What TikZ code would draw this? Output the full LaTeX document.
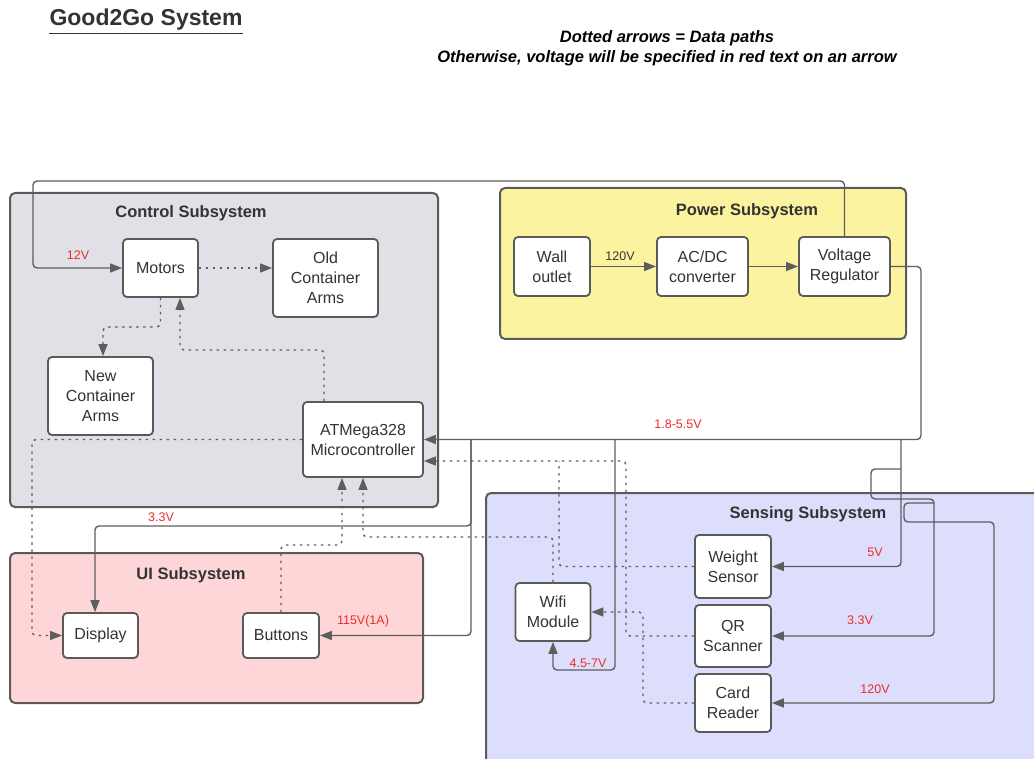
\documentclass[tikz,border=0pt]{standalone}
\usepackage{fontspec}
\setmainfont{Liberation Sans}
\usetikzlibrary{arrows.meta}
\definecolor{ln}{HTML}{5E5E5E}
\definecolor{bd}{HTML}{5A5A5A}
\definecolor{txt}{HTML}{333333}
\definecolor{ctrlfill}{HTML}{DFE1E6}
\definecolor{powfill}{HTML}{FCF3A0}
\definecolor{uifill}{HTML}{FFD6D7}
\definecolor{sensfill}{HTML}{DDDDFC}
\definecolor{vred}{HTML}{EE2B2B}
\begin{document}
\begin{tikzpicture}[x=1pt,y=-1pt,
  group/.style={draw=bd, line width=2pt, rounded corners=5pt},
  gtitle/.style={font=\fontsize{16.5}{20}\selectfont\bfseries, text=txt, inner sep=0},
  blk/.style={draw=bd, fill=white, line width=1.8pt, rounded corners=4pt, align=center,
    font=\fontsize{16}{20}\selectfont, text=txt, inner sep=0},
  lnk/.style={draw=ln, line width=1.4pt, rounded corners=4pt, -{Triangle[length=12pt,width=9pt]}},
  pw/.style={lnk},
  data/.style={lnk, dash pattern=on 2.5pt off 4.5pt},
  vlab/.style={font=\fontsize{12.5}{14}\selectfont, text=vred, inner sep=0},
]
\useasboundingbox (0,0) rectangle (1034,759);
\clip (0,0) rectangle (1034,759);
\fill[white] (0,0) rectangle (1034,759);

% title and legend
\node[font=\fontsize{23}{26}\selectfont\bfseries, text=txt, inner sep=0] (title) at (146,20) {Good2Go System};
\draw[txt, line width=1.8pt] ([yshift=-2.5pt]title.south west) -- ([yshift=-2.5pt]title.south east);
\node[font=\fontsize{16.5}{20}\selectfont\bfseries\itshape, text=black, align=center, inner sep=0] (legend) at (667,48)
  {Dotted arrows = Data paths\\Otherwise, voltage will be specified in red text on an arrow};

% groups
\draw[group, fill=ctrlfill] (10,193) rectangle (438,507);
\draw[group, fill=powfill] (500,188) rectangle (906,339);
\draw[group, fill=uifill] (10,553) rectangle (423,703);
\draw[group, fill=sensfill] (486,493) rectangle (1050,780);
\node[gtitle] (tctrl) at (191,213) {Control Subsystem};
\node[gtitle] (tpow) at (747,211) {Power Subsystem};
\node[gtitle] (tui) at (191,575) {UI Subsystem};
\node[gtitle] (tsens) at (808,514) {Sensing Subsystem};

% blocks
\node[blk, minimum width=75pt, minimum height=58pt] (motors) at (160.5,268) {Motors};
\node[blk, minimum width=105pt, minimum height=78pt] (old) at (325.5,278) {Old\\Container\\Arms};
\node[blk, minimum width=105pt, minimum height=78pt] (new) at (100.5,396) {New\\Container\\Arms};
\node[blk, minimum width=120pt, minimum height=75pt] (atm) at (363,439.5) {ATMega328\\Microcontroller};
\node[blk, minimum width=76pt, minimum height=59pt] (wall) at (552,266.5) {Wall\\outlet};
\node[blk, minimum width=91pt, minimum height=59pt] (acdc) at (702.5,266.5) {AC/DC\\converter};
\node[blk, minimum width=91pt, minimum height=59pt] (vr) at (844.5,266.5) {Voltage\\Regulator};
\node[blk, minimum width=75pt, minimum height=45pt] (display) at (100.5,635.5) {Display};
\node[blk, minimum width=76pt, minimum height=45pt] (buttons) at (281,635.5) {Buttons};
\node[blk, minimum width=75pt, minimum height=58pt] (wifi) at (553,612) {Wifi\\Module};
\node[blk, minimum width=76pt, minimum height=63pt] (weight) at (733,566.5) {Weight\\Sensor};
\node[blk, minimum width=76pt, minimum height=62pt] (qr) at (733,636) {QR\\Scanner};
\node[blk, minimum width=76pt, minimum height=58pt] (card) at (733,703) {Card\\Reader};

% junctions
\coordinate (j1) at (471,439.5);
\coordinate (j2) at (615,439.5);
\coordinate (j3) at (901,439.5);
\coordinate (j4) at (901,469);
\coordinate (j5) at (934,503);
\coordinate (j6) at (559,461);

% power connectors
\draw[pw] (wall.east) -- (acdc.west);
\draw[pw] (acdc.east) -- (vr.west);
\draw[pw] (vr.north) -- (844.5,181) -- (33,181) -- (33,268) -- (motors.west);
\draw[pw] (vr.east) -- (921,266.5) -- (921,439.5) -- (atm.east);
\draw[pw] (j1) -- (471,526) -- (95,526) -- ([xshift=-5.5pt]display.north);
\draw[pw] (j1) -- (471,635.5) -- (buttons.east);
\draw[pw] (j2) -- (615,670) -- (553,670) -- (wifi.south);
\draw[pw] (j3) -- (901,566.5) -- (weight.east);
\draw[pw] (j4) -- (871,469) -- (871,499) -- (934,499) -- (934,636) -- (qr.east);
\draw[pw] (j5) -- (904,503) -- (904,522) -- (994,522) -- (994,703) -- (card.east);

% data connectors
\draw[data] (motors.east) -- (old.west |- motors.east);
\draw[data] (motors.south) -- (160.5,327) -- (103,327) -- ([xshift=2.5pt]new.north);
\draw[data] ([xshift=-39pt]atm.north) -- (324,350) -- (180,350) -- ([xshift=19.5pt]motors.south);
\draw[data] (atm.west) -- (32,439.5) -- (32,635.5) -- (display.west);
\draw[data] (buttons.north) -- (281,545) -- (342,545) -- ([xshift=-21pt]atm.south);
\draw[data] (wifi.north) -- (553,537) -- (363,537) -- (atm.south);
\draw[data, -] (weight.west) -- (559,566.5) -- (j6);
\draw[data] (qr.west) -- (626,636) -- (626,461) -- ([yshift=-21.5pt]atm.east);
\draw[data] (card.west) -- (643,703) -- (643,612) -- (wifi.east);

% labels
\node[vlab, text=txt] (l120a) at (620,256) {120V};
\node[vlab] (l12) at (78,255) {12V};
\node[vlab] (l18) at (678,424) {1.8-5.5V};
\node[vlab] (l33a) at (161,517) {3.3V};
\node[vlab] (l115) at (363,621) {115V(1A)};
\node[vlab] (l45) at (588,663) {4.5-7V};
\node[vlab] (l5) at (875,552) {5V};
\node[vlab] (l33b) at (860,620) {3.3V};
\node[vlab] (l120b) at (875,689) {120V};
\end{tikzpicture}
\end{document}
